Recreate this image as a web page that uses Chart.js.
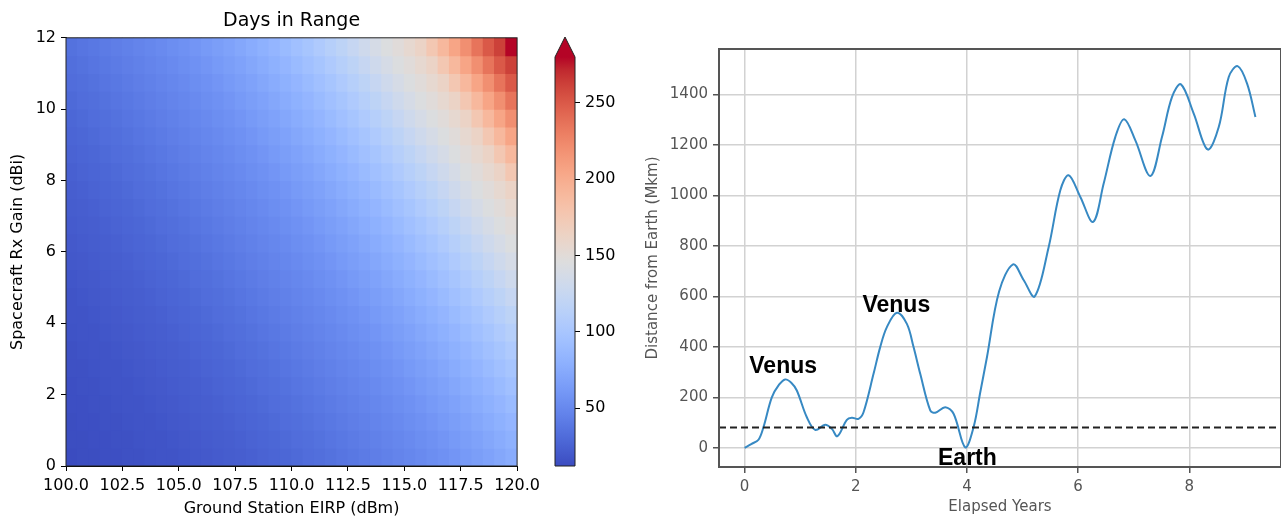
<!DOCTYPE html>
<html lang="en">
<head>
<meta charset="UTF-8" />
<title>Days in Range / Distance from Earth</title>
<script src="https://cdn.jsdelivr.net/npm/chart.js"></script>
<style>
  body { margin: 0; background: #fff; }
  .fig { position: relative; width: 1281px; height: 519px; overflow: hidden; }
  .fig canvas { position: absolute; top: 0; }
  #heat { left: 0; }
  #cbar { left: 545px; }
  #dist { left: 600px; }
</style>
</head>
<body>
<div class="fig">
  <canvas id="heat" width="545" height="519"></canvas>
  <canvas id="cbar" width="80" height="519"></canvas>
  <canvas id="dist" width="681" height="519"></canvas>
</div>
<script>
// ---- left panel: days in range vs EIRP and Rx gain ----
const eirpBins = [100.0, 100.5, 101.0, 101.5, 102.0, 102.5, 103.0, 103.5, 104.0, 104.5,
                  105.0, 105.5, 106.0, 106.5, 107.0, 107.5, 108.0, 108.5, 109.0, 109.5,
                  110.0, 110.5, 111.0, 111.5, 112.0, 112.5, 113.0, 113.5, 114.0, 114.5,
                  115.0, 115.5, 116.0, 116.5, 117.0, 117.5, 118.0, 118.5, 119.0, 119.5];
const gainBins = [0.0, 0.5, 1.0, 1.5, 2.0, 2.5, 3.0, 3.5, 4.0, 4.5, 5.0, 5.5,
                  6.0, 6.5, 7.0, 7.5, 8.0, 8.5, 9.0, 9.5, 10.0, 10.5, 11.0, 11.5];
const binEirp = 0.5;
const binGain = 0.5;

// one row per gain bin, 0 dBi first
const days = [
  [12,13,13,14,14,15,15,16,17,17,18,19,20,21,22,23,24,26,27,28,30,32,33,35,37,39,41,43,45,47,49,51,54,56,59,62,65,68,72,76],
  [13,13,14,14,15,15,16,17,17,18,19,20,21,22,23,24,26,27,28,30,32,33,35,37,39,41,43,45,47,49,51,54,56,59,62,65,68,72,76,80],
  [13,14,14,15,15,16,17,17,18,19,20,21,22,23,24,26,27,28,30,32,33,35,37,39,41,43,45,47,49,51,54,56,59,62,65,68,72,76,80,84],
  [14,14,15,15,16,17,17,18,19,20,21,22,23,24,26,27,28,30,32,33,35,37,39,41,43,45,47,49,51,54,56,59,62,65,68,72,76,80,84,89],
  [14,15,15,16,17,17,18,19,20,21,22,23,24,26,27,28,30,32,33,35,37,39,41,43,45,47,49,51,54,56,59,62,65,68,72,76,80,84,89,94],
  [15,15,16,17,17,18,19,20,21,22,23,24,26,27,28,30,32,33,35,37,39,41,43,45,47,49,51,54,56,59,62,65,68,72,76,80,84,89,94,99],
  [15,16,17,17,18,19,20,21,22,23,24,26,27,28,30,32,33,35,37,39,41,43,45,47,49,51,54,56,59,62,65,68,72,76,80,84,89,94,99,105],
  [16,17,17,18,19,20,21,22,23,24,26,27,28,30,32,33,35,37,39,41,43,45,47,49,51,54,56,59,62,65,68,72,76,80,84,89,94,99,105,111],
  [17,17,18,19,20,21,22,23,24,26,27,28,30,32,33,35,37,39,41,43,45,47,49,51,54,56,59,62,65,68,72,76,80,84,89,94,99,105,111,117],
  [17,18,19,20,21,22,23,24,26,27,28,30,32,33,35,37,39,41,43,45,47,49,51,54,56,59,62,65,68,72,76,80,84,89,94,99,105,111,117,124],
  [18,19,20,21,22,23,24,26,27,28,30,32,33,35,37,39,41,43,45,47,49,51,54,56,59,62,65,68,72,76,80,84,89,94,99,105,111,117,124,131],
  [19,20,21,22,23,24,26,27,28,30,32,33,35,37,39,41,43,45,47,49,51,54,56,59,62,65,68,72,76,80,84,89,94,99,105,111,117,124,131,138],
  [20,21,22,23,24,26,27,28,30,32,33,35,37,39,41,43,45,47,49,51,54,56,59,62,65,68,72,76,80,84,89,94,99,105,111,117,124,131,138,144],
  [21,22,23,24,26,27,28,30,32,33,35,37,39,41,43,45,47,49,51,54,56,59,62,65,68,72,76,80,84,89,94,99,105,111,117,124,131,138,144,149],
  [22,23,24,26,27,28,30,32,33,35,37,39,41,43,45,47,49,51,54,56,59,62,65,68,72,76,80,84,89,94,99,105,111,117,124,131,138,144,149,155],
  [23,24,26,27,28,30,32,33,35,37,39,41,43,45,47,49,51,54,56,59,62,65,68,72,76,80,84,89,94,99,105,111,117,124,131,138,144,149,155,162],
  [24,26,27,28,30,32,33,35,37,39,41,43,45,47,49,51,54,56,59,62,65,68,72,76,80,84,89,94,99,105,111,117,124,131,138,144,149,155,162,176],
  [26,27,28,30,32,33,35,37,39,41,43,45,47,49,51,54,56,59,62,65,68,72,76,80,84,89,94,99,105,111,117,124,131,138,144,149,155,162,176,190],
  [27,28,30,32,33,35,37,39,41,43,45,47,49,51,54,56,59,62,65,68,72,76,80,84,89,94,99,105,111,117,124,131,138,144,149,155,162,176,190,205],
  [28,30,32,33,35,37,39,41,43,45,47,49,51,54,56,59,62,65,68,72,76,80,84,89,94,99,105,111,117,124,131,138,144,149,155,162,176,190,205,220],
  [30,32,33,35,37,39,41,43,45,47,49,51,54,56,59,62,65,68,72,76,80,84,89,94,99,105,111,117,124,131,138,144,149,155,162,176,190,205,220,236],
  [32,33,35,37,39,41,43,45,47,49,51,54,56,59,62,65,68,72,76,80,84,89,94,99,105,111,117,124,131,138,144,149,155,162,176,190,205,220,236,250],
  [33,35,37,39,41,43,45,47,49,51,54,56,59,62,65,68,72,76,80,84,89,94,99,105,111,117,124,131,138,144,149,155,162,176,190,205,220,236,250,262],
  [35,37,39,41,43,45,47,49,51,54,56,59,62,65,68,72,76,80,84,89,94,99,105,111,117,124,131,138,144,149,155,162,176,190,205,220,236,250,262,290]
];
const eirpTicks = [100, 102.5, 105, 107.5, 110, 112.5, 115, 117.5, 120];
const gainTicks = [0, 2, 4, 6, 8, 10, 12];
const colorMin = 12;
const colorMax = 280;
const colorTicks = [50, 100, 150, 200, 250];

// ---- right panel: distance from Earth ----
const years = [0, 0.12, 0.25, 0.34, 0.49, 0.62, 0.73, 0.84, 0.94, 1.12,
               1.27, 1.45, 1.57, 1.67, 1.84, 1.93, 2.05, 2.14, 2.32, 2.44,
               2.56, 2.74, 2.92, 3.04, 3.16, 3.34, 3.43, 3.61, 3.76, 3.97,
               4.12, 4.24, 4.36, 4.58, 4.83, 5.02, 5.22, 5.47, 5.68, 5.83,
               6.04, 6.27, 6.46, 6.67, 6.83, 7.03, 7.30, 7.51, 7.69, 7.85,
               8.08, 8.33, 8.53, 8.71, 8.87, 9.04, 9.19];
const distance = [0, 15, 32, 82, 200, 250, 271, 258, 227, 121,
                  71, 91, 75, 46, 111, 119, 115, 141, 293, 399,
                  478, 535, 491, 399, 293, 148, 139, 161, 135, 2,
                  82, 220, 359, 620, 727, 665, 600, 795, 1020, 1080,
                  994, 895, 1047, 1232, 1302, 1218, 1077, 1232, 1390, 1440,
                  1324, 1182, 1271, 1469, 1512, 1443, 1311];
const yearTicks = [0, 2, 4, 6, 8];
const distanceTicks = [0, 200, 400, 600, 800, 1000, 1200, 1400];
const rangeLimit = 80;
const labelText = ['Venus', 'Venus', 'Earth'];
const labelYear = [0.085, 2.12, 3.48];
const labelDist = [295, 540, -70];

// coolwarm colour map (33 stops)
const coolwarmStops = [
  [59,76,192],[68,90,204],[77,104,215],[87,117,225],[98,130,234],[108,142,241],[119,154,247],[130,165,251],
  [141,176,254],[152,185,255],[163,194,255],[174,201,253],[184,208,249],[194,213,244],[204,217,238],[213,219,230],
  [221,221,221],[229,216,209],[236,211,197],[241,204,185],[245,196,173],[247,187,160],[247,177,148],[247,166,135],
  [244,154,123],[241,141,111],[236,127,99],[229,112,88],[222,96,77],[213,80,66],[203,62,56],[192,40,47],[180,4,38]
];
function coolwarm(v) {
  let t = (v - colorMin) / (colorMax - colorMin);
  t = Math.min(1, Math.max(0, t)) * (coolwarmStops.length - 1);
  const k = Math.min(Math.floor(t), coolwarmStops.length - 2);
  const f = t - k, a = coolwarmStops[k], b = coolwarmStops[k + 1];
  const c = a.map((ch, n) => Math.round(ch + (b[n] - ch) * f));
  return `rgb(${c[0]},${c[1]},${c[2]})`;
}

Chart.defaults.font.family = "'DejaVu Sans', sans-serif";

const frame = (color, width) => ({
  id: 'frame',
  afterDraw(chart) {
    const {ctx, chartArea: a} = chart;
    ctx.save();
    ctx.strokeStyle = color;
    ctx.lineWidth = width;
    ctx.strokeRect(a.left, a.top, a.right - a.left, a.bottom - a.top);
    ctx.restore();
  }
});

// heat map cells, one floating bar per cell
const cells = [];
days.forEach((row, j) => row.forEach((v, i) => {
  cells.push({x: eirpBins[i] + binEirp / 2, y: [gainBins[j], gainBins[j] + binGain], v});
}));

const blackTicks = {color: '#000', font: {size: 16}};

new Chart(document.getElementById('heat'), {
  type: 'bar',
  data: {
    datasets: [{
      data: cells,
      backgroundColor: c => coolwarm(c.raw.v),
      barPercentage: 1,
      categoryPercentage: 1,
      inflateAmount: 0.5
    }]
  },
  options: {
    responsive: false,
    animation: false,
    layout: {padding: {left: 0, right: 18, top: 0, bottom: 0}},
    plugins: {
      legend: {display: false},
      tooltip: {enabled: false},
      title: {
        display: true, text: 'Days in Range', fullSize: false, color: '#000',
        font: {size: 19, weight: 'normal'}, padding: {top: 10, bottom: 5}
      }
    },
    scales: {
      x: {
        type: 'linear', min: 100, max: 120, offset: false,
        afterBuildTicks: s => { s.ticks = eirpTicks.map(value => ({value})); },
        afterFit: s => { s.height = 53; },
        ticks: {...blackTicks, autoSkip: false, maxRotation: 0, padding: 5, callback: v => v.toFixed(1)},
        grid: {offset: false, drawOnChartArea: false, tickLength: 5, tickColor: '#000'},
        border: {color: '#000'},
        title: {display: true, text: 'Ground Station EIRP (dBm)', color: '#000', font: {size: 16}, padding: {top: 0, bottom: 1}}
      },
      y: {
        min: 0, max: 12,
        afterBuildTicks: s => { s.ticks = gainTicks.map(value => ({value})); },
        afterFit: s => { s.width = 66; },
        ticks: {...blackTicks, padding: 5},
        grid: {drawOnChartArea: false, tickLength: 5, tickColor: '#000'},
        border: {color: '#000'},
        title: {display: true, text: 'Spacecraft Rx Gain (dBi)', color: '#000', font: {size: 16}, padding: {top: 8, bottom: 0}}
      }
    }
  },
  plugins: [frame('#222', 1)]
});

// colour bar with an "over" arrow on top
const cbarArrow = {
  id: 'cbarArrow',
  afterDatasetsDraw(chart) {
    const {ctx, chartArea: a} = chart;
    const mid = (a.left + a.right) / 2, tip = a.top - 20;
    ctx.save();
    ctx.beginPath();
    ctx.moveTo(a.left, a.top); ctx.lineTo(mid, tip); ctx.lineTo(a.right, a.top); ctx.closePath();
    ctx.fillStyle = coolwarm(colorMax);
    ctx.fill();
    ctx.beginPath();
    ctx.moveTo(a.left, a.bottom); ctx.lineTo(a.left, a.top); ctx.lineTo(mid, tip);
    ctx.lineTo(a.right, a.top); ctx.lineTo(a.right, a.bottom); ctx.closePath();
    ctx.strokeStyle = '#222';
    ctx.lineWidth = 1;
    ctx.stroke();
    ctx.restore();
  }
};

new Chart(document.getElementById('cbar'), {
  type: 'bar',
  data: {
    labels: [''],
    datasets: [{
      data: [[colorMin, colorMax]],
      barPercentage: 1,
      categoryPercentage: 1,
      backgroundColor: c => {
        const chart = c.chart;
        if (!chart.chartArea) return '#ccc';
        const ys = chart.scales.y;
        const g = chart.ctx.createLinearGradient(0, ys.getPixelForValue(colorMin), 0, ys.getPixelForValue(colorMax));
        coolwarmStops.forEach((s, k) => g.addColorStop(k / (coolwarmStops.length - 1), `rgb(${s.join(',')})`));
        return g;
      }
    }]
  },
  options: {
    responsive: false,
    animation: false,
    layout: {padding: {left: 10, right: 0, top: 57, bottom: 53}},
    plugins: {legend: {display: false}, tooltip: {enabled: false}},
    scales: {
      x: {display: false},
      y: {
        position: 'right', min: colorMin, max: colorMax,
        afterBuildTicks: s => { s.ticks = colorTicks.map(value => ({value})); },
        afterFit: s => { s.width = 50; },
        ticks: {...blackTicks, padding: 5},
        grid: {drawOnChartArea: false, tickLength: 5, tickColor: '#000'},
        border: {display: false}
      }
    }
  },
  plugins: [cbarArrow]
});

// right panel
const rangeLine = {
  id: 'rangeLine',
  afterDatasetsDraw(chart) {
    const {ctx, chartArea: a, scales: {y}} = chart;
    const py = y.getPixelForValue(rangeLimit);
    ctx.save();
    ctx.setLineDash([7, 4]);
    ctx.strokeStyle = '#222';
    ctx.lineWidth = 2;
    ctx.beginPath(); ctx.moveTo(a.left, py); ctx.lineTo(a.right, py); ctx.stroke();
    ctx.restore();
  }
};
const bodyLabels = {
  id: 'bodyLabels',
  afterDatasetsDraw(chart) {
    const {ctx, scales: {x, y}} = chart;
    ctx.save();
    ctx.font = "bold 23px 'Liberation Sans', sans-serif";
    ctx.fillStyle = '#000';
    ctx.textAlign = 'left';
    ctx.textBaseline = 'alphabetic';
    labelText.forEach((t, i) => ctx.fillText(t, x.getPixelForValue(labelYear[i]), y.getPixelForValue(labelDist[i])));
    ctx.restore();
  }
};

const grayTicks = {color: '#555', font: {size: 15}, padding: 5, callback: v => String(v)};
const lightGrid = {color: '#d2d2d2', lineWidth: 1.5, tickLength: 6, tickColor: '#555', tickWidth: 1.5};

new Chart(document.getElementById('dist'), {
  type: 'line',
  data: {
    datasets: [{
      data: years.map((x, i) => ({x, y: distance[i]})),
      borderColor: '#3789c3',
      borderWidth: 2,
      pointRadius: 0,
      tension: 0.35,
      fill: false
    }]
  },
  options: {
    responsive: false,
    animation: false,
    layout: {padding: {left: 40, right: 0, top: 49, bottom: 0}},
    plugins: {legend: {display: false}, tooltip: {enabled: false}},
    scales: {
      x: {
        type: 'linear', min: -0.46, max: 9.65,
        afterBuildTicks: s => { s.ticks = yearTicks.map(value => ({value})); },
        afterFit: s => { s.height = 52; },
        ticks: grayTicks,
        grid: lightGrid,
        border: {color: '#555', width: 2},
        title: {display: true, text: 'Elapsed Years', color: '#555', font: {size: 15}, padding: {top: 0, bottom: 3}}
      },
      y: {
        min: -76, max: 1580,
        afterBuildTicks: s => { s.ticks = distanceTicks.map(value => ({value})); },
        afterFit: s => { s.width = 79; },
        ticks: grayTicks,
        grid: lightGrid,
        border: {color: '#555', width: 2},
        title: {display: true, text: 'Distance from Earth (Mkm)', color: '#555', font: {size: 15}, padding: {top: 4, bottom: 0}}
      }
    }
  },
  plugins: [frame('#555', 2), rangeLine, bodyLabels]
});
</script>
</body>
</html>
